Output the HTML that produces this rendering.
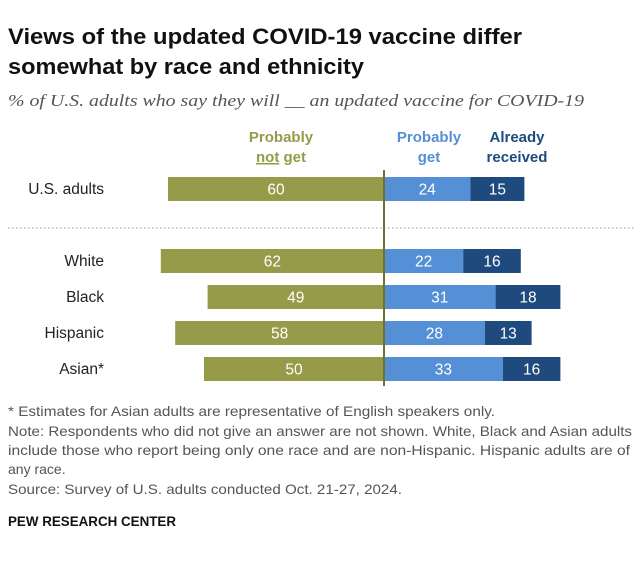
<!DOCTYPE html>
<html><head><meta charset="utf-8"><style>
body{margin:0;background:#fff;width:639px;height:557px;overflow:hidden;font-family:"Liberation Sans",Arial,sans-serif}
</style></head><body>
<svg width="639" height="557" xmlns="http://www.w3.org/2000/svg">
<text x="8" y="44" font-size="22" font-weight="bold" fill="#111" textLength="514" lengthAdjust="spacingAndGlyphs">Views of the updated COVID-19 vaccine differ</text>
<text x="8" y="74" font-size="22" font-weight="bold" fill="#111" textLength="356" lengthAdjust="spacingAndGlyphs">somewhat by race and ethnicity</text>
<text x="8" y="106" font-size="16.5" font-style="italic" font-family="Liberation Serif,serif" fill="#555" textLength="576" lengthAdjust="spacingAndGlyphs">% of U.S. adults who say they will __ an updated vaccine for COVID-19</text>
<g font-size="15" font-weight="bold" text-anchor="middle">
<text x="281" y="142" fill="#959b48">Probably</text>
<text x="281" y="162" fill="#959b48"><tspan text-decoration="underline">not</tspan> get</text>
<text x="429" y="142" fill="#5590d6">Probably</text>
<text x="429" y="162" fill="#5590d6">get</text>
<text x="517" y="142" fill="#1f4a7e">Already</text>
<text x="517" y="162" fill="#1f4a7e">received</text>
</g>
<line x1="8" y1="228" x2="635" y2="228" stroke="#999" stroke-dasharray="1.5,2.5"/>
<g id="bars"></g>
<line x1="384" y1="170" x2="384" y2="386" stroke="#6e7230" stroke-width="2"/>
<g font-size="14" fill="#555">
<text x="8" y="416" textLength="487" lengthAdjust="spacingAndGlyphs">* Estimates for Asian adults are representative of English speakers only.</text>
<text x="8" y="436" textLength="624" lengthAdjust="spacingAndGlyphs">Note: Respondents who did not give an answer are not shown. White, Black and Asian adults</text>
<text x="8" y="455" textLength="622" lengthAdjust="spacingAndGlyphs">include those who report being only one race and are non-Hispanic. Hispanic adults are of</text>
<text x="8" y="474">any race.</text>
<text x="8" y="494" textLength="394" lengthAdjust="spacingAndGlyphs">Source: Survey of U.S. adults conducted Oct. 21-27, 2024.</text>
</g>
<text x="8" y="526" font-size="13.5" font-weight="bold" fill="#111" textLength="168" lengthAdjust="spacingAndGlyphs">PEW RESEARCH CENTER</text>
</svg>
<script>
const categories=["U.S. adults","White","Black","Hispanic","Asian*"];
const notGet=[60,62,49,58,50];
const get=[24,22,31,28,33];
const received=[15,16,18,13,16];
const rowY=[189,261,297,333,369];
const cx=384,k=3.6,h=24;
const g=document.getElementById('bars');
const NS="http://www.w3.org/2000/svg";
function mk(tag,attrs){const e=document.createElementNS(NS,tag);for(const a in attrs)e.setAttribute(a,attrs[a]);g.appendChild(e);return e;}
function x(v){return v*k;}
categories.forEach((c,i)=>{
  const y=rowY[i];
  const lab=mk('text',{x:104,y:y+5,'font-size':15.5,'text-anchor':'end',fill:'#222'});lab.textContent=c;
  
  
  const segs=[[cx-x(notGet[i]),x(notGet[i]),'#959b48',notGet[i],'bar-not-get'],
              [cx,x(get[i]),'#5590d6',get[i],'bar-get'],
              [cx+x(get[i]),x(received[i]),'#1f4a7e',received[i],'bar-received']];
  segs.forEach(s=>{
    const r=mk('rect',{x:s[0],y:y-h/2,width:s[1],height:h,fill:s[2]});
    
    
    const t=mk('text',{x:s[0]+s[1]/2,y:y+5.5,'font-size':15.5,'text-anchor':'middle',fill:'#fff'});t.textContent=s[3];
    
    
  });
});
</script>
</body></html>
